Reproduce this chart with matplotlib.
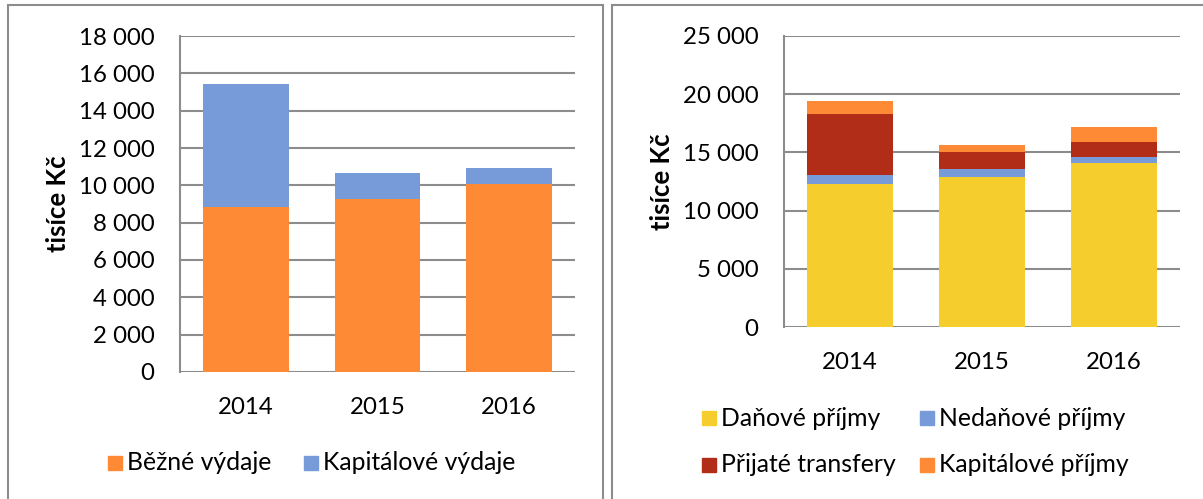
import matplotlib
matplotlib.use("Agg")
import matplotlib.pyplot as plt
from matplotlib.patches import Rectangle
import numpy as np

plt.rcParams['font.family'] = ['Lato', 'DejaVu Sans']

years = ["2014", "2015", "2016"]

# Left chart (výdaje)
bezne_vydaje = [8840, 9250, 10090]
kapitalove_vydaje = [6570, 1390, 840]

# Right chart (příjmy)
danove_prijmy = [12285, 12890, 14060]
nedanove_prijmy = [745, 710, 545]
prijate_transfery = [5270, 1405, 1320]
kapitalove_prijmy = [1115, 630, 1260]

left_ticks = [0, 2000, 4000, 6000, 8000, 10000, 12000, 14000, 16000, 18000]
right_ticks = [0, 5000, 10000, 15000, 20000, 25000]

C_ORANGE = "#FF8A36"
C_BLUE = "#779BD9"
C_YELLOW = "#F5CE2E"
C_RED = "#B22D17"
GRID = "#8C8C8C"

W, H = 1203, 499
fig = plt.figure(figsize=(W / 100, H / 100), dpi=100)

def ax_at(x0, y0, x1, y1):
    return fig.add_axes([x0 / W, (H - y1) / H, (x1 - x0) / W, (y1 - y0) / H])

def fmt(v):
    return f"{v:,}".replace(",", " ")

FS = 17.3

def style(ax, ticks):
    ax.set_xlim(-0.5, 2.5)
    ax.set_ylim(0, ticks[-1])
    ax.set_yticks(ticks)
    ax.set_yticklabels([fmt(t) for t in ticks])
    ax.set_xticks(range(len(years)))
    ax.set_xticklabels(years)
    for s in ["top", "right", "bottom"]:
        ax.spines[s].set_visible(False)
    ax.spines["left"].set_color(GRID)
    ax.spines["left"].set_linewidth(1.5)
    ax.yaxis.grid(True, color=GRID, linewidth=1.5)
    ax.set_axisbelow(True)
    ax.tick_params(axis="y", length=0, pad=18.5, labelsize=FS, colors="black")
    ax.tick_params(axis="x", length=0, pad=18, labelsize=FS, colors="black")
    ax.set_ylabel("tisíce Kč", fontsize=18.5, fontweight="bold")

bw = 0.65
x = np.arange(len(years))

# Left chart
ax1 = ax_at(180, 36, 575, 372)
ax1.bar(x, bezne_vydaje, bw, color=C_ORANGE, zorder=3)
ax1.bar(x, kapitalove_vydaje, bw, bottom=bezne_vydaje, color=C_BLUE, zorder=3)
style(ax1, left_ticks)
ax1.yaxis.set_label_coords((70 - 180) / 395, 0.5)

# Right chart
ax2 = ax_at(784, 36, 1180, 327)
b0 = np.zeros(3)
for vals, col in [(danove_prijmy, C_YELLOW), (nedanove_prijmy, C_BLUE),
                  (prijate_transfery, C_RED), (kapitalove_prijmy, C_ORANGE)]:
    ax2.bar(x, vals, bw, bottom=b0, color=col, zorder=3)
    b0 = b0 + np.array(vals)
style(ax2, right_ticks)
ax2.yaxis.set_label_coords((674 - 784) / 396, 0.5)

# Legends
def legend_item(px, py, color, label):
    fig.patches.append(Rectangle((px / W, (H - py - 7) / H), 14 / W, 14 / H,
                                 transform=fig.transFigure, color=color))
    fig.text((px + 19) / W, (H - py) / H, label, fontsize=FS + 0.5, va="center", ha="left")

legend_item(108, 463, C_ORANGE, "Běžné výdaje")
legend_item(304, 463, C_BLUE, "Kapitálové výdaje")
legend_item(702, 418, C_YELLOW, "Daňové příjmy")
legend_item(920, 418, C_BLUE, "Nedaňové příjmy")
legend_item(702, 465, C_RED, "Přijaté transfery")
legend_item(920, 465, C_ORANGE, "Kapitálové příjmy")

# Panel borders
for (x0, x1) in [(8, 603), (612, 1210)]:
    fig.patches.append(Rectangle((x0 / W, -0.05), (x1 - x0) / W, (H - 5) / H + 0.05,
                                 transform=fig.transFigure, fill=False,
                                 edgecolor="#8C8C8C", linewidth=1.5))

fig.savefig("out.png", dpi=100)
